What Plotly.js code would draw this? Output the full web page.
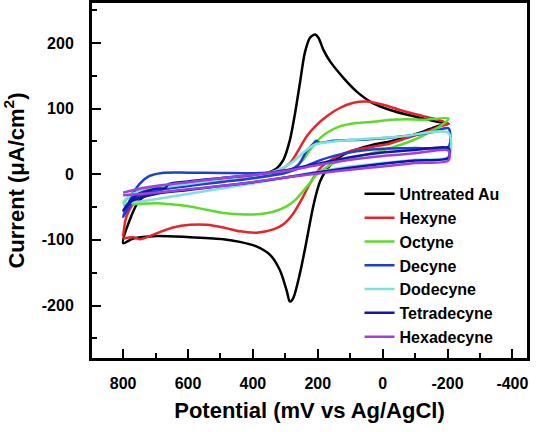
<!DOCTYPE html>
<html>
<head>
<meta charset="utf-8">
<script src="https://cdn.plot.ly/plotly-3.0.1.min.js"></script>
<style>html,body{margin:0;padding:0;background:#fff;}#chart{width:536px;height:432px;}</style>
</head>
<body>
<div id="chart"></div>
<script>
// Series names
const seriesNames = ["Untreated Au", "Hexyne", "Octyne", "Decyne", "Dodecyne", "Tetradecyne", "Hexadecyne"];

// Untreated Au (closed CV loop)
const untreatedX = [800,769,697,594,491,440,389,347,317,296,286,276,255,234,214,193,162,121,80,29,-23,-74,-125,-167,-203,
                    -167,-125,-74,-23,29,80,121,162,183,198,208,224,240,255,270,286,306,327,358,400,500,600,700,750,780,800];
const untreatedY = [-105,-98,-94,-96,-99,-103,-110,-123,-146,-177,-194,-189,-151,-100,-49,-11,14,30,38,45,50,57,65,73,77,
                    80,85,91,98,108,126,147,172,190,208,213,208,185,139,93,52,22,9,1.5,-2,-7,-14,-25,-40,-70,-105];

// Hexyne
const hexyneX = [800,769,749,697,646,594,543,491,440,389,337,306,276,245,224,193,152,101,29,-23,-74,-125,-177,-203,
                 -156,-105,-53,-2,49,90,132,173,204,234,265,286,317,358,400,500,600,700,760,790,800];
const hexyneY = [-98,-96,-99,-90,-81,-77,-77,-81,-87,-89,-84,-76,-60,-34,-14,9,24,35,42,47,55,63,73,77,
                 85,91,98,106,111,109,101,88,75,58,32,17,7,1.5,-3,-9,-17,-25,-40,-65,-95];

// Octyne
const octyneX = [800,749,697,646,594,543,491,440,389,337,296,265,234,204,162,111,49,-23,-74,-125,-177,-203,
                 -125,-74,-23,29,80,132,173,193,224,245,276,306,400,500,600,700,770,800];
const octyneY = [-47,-45,-44,-46,-49,-54,-59,-61,-61,-57,-49,-37,-19,-1,14,23,30,40,48,59,73,85,
                 83,84,83,80,78,73,63,55,37,22,9,4,-2,-6,-12,-20,-28,-45];

// Decyne
const decyneX = [800,780,750,720,680,600,500,400,330,290,260,235,215,205,195,150,50,-50,-150,-203,
                 -203,-100,0,80,150,200,250,300,400,500,600,700,760,800];
const decyneY = [-65,-40,-15,-3,2,2.5,2,1.5,3,6,14,35,46,51,48,51,53,57,64,70,
                 42,40,39,35,28,20,10,2,-6,-12,-18,-25,-35,-65];

// Dodecyne
const dodecyneX = [800,770,700,600,500,400,330,280,240,210,150,50,-50,-203,
                   -203,-100,0,100,200,300,400,500,600,700,800];
const dodecyneY = [-42,-30,-22,-15,-8,-2,5,18,35,45,50,54,57,63,
                   27,22,17,12,4,-5,-14,-22,-30,-38,-45];

// Tetradecyne
const tetradecyneX = [800,760,700,670,660,600,500,400,300,200,100,0,-100,-203,
                      -203,-100,0,100,200,300,400,500,600,700,770,800];
const tetradecyneY = [-55,-32,-22,-21,-15,-11,-6,-1,6,16,26,33,37,40,
                      25,21,16,10,3,-5,-12,-18,-24,-30,-40,-55];

// Hexadecyne
const hexadecyneX = [800,750,700,600,500,400,300,200,100,0,-100,-203,
                     -203,-100,0,100,200,300,400,500,600,700,800];
const hexadecyneY = [-28,-22,-18,-12,-6,-1,5,14,22,28,32,36,
                     21,17,12,7,1,-5,-12,-18,-23,-28,-32];

// Axis ticks
const xTickVals = [800, 600, 400, 200, 0, -200, -400];
const xTickText = ["800", "600", "400", "200", "0", "-200", "-400"];
const xMinorVals = [900, 700, 500, 300, 100, -100, -300];
const yTickVals = [200, 100, 0, -100, -200];
const yTickText = ["200", "100", "0", "-100", "-200"];
const yMinorVals = [250, 150, 50, -50, -150, -250];

const colors = ["#000000", "#e8242a", "#5ddb2a", "#1f3fd2", "#7de3da", "#1414aa", "#a03ee0"];
const xs = [untreatedX, hexyneX, octyneX, decyneX, dodecyneX, tetradecyneX, hexadecyneX];
const ys = [untreatedY, hexyneY, octyneY, decyneY, dodecyneY, tetradecyneY, hexadecyneY];

const traces = seriesNames.map((n, i) => ({
  x: xs[i], y: ys[i], name: n, type: 'scatter', mode: 'lines',
  line: {color: colors[i], width: 2.5, shape: 'spline', smoothing: 0.8}
}));
const fam = '"Liberation Sans", Arial, sans-serif';

const layout = {
  width: 536, height: 432,
  margin: {l: 92, r: 9, t: 3, b: 74},
  paper_bgcolor: '#fff', plot_bgcolor: '#fff',
  showlegend: true,
  legend: {x: 0.615, y: 0.51, xanchor: 'left', yanchor: 'top', bgcolor: 'rgba(0,0,0,0)',
           font: {family: fam, size: 16, color: '#000', weight: 'bold'}, tracegroupgap: 0},
  xaxis: {
    range: [896, -445], showgrid: false, zeroline: false,
    showline: true, linewidth: 3, linecolor: '#000', mirror: true,
    ticks: 'inside', ticklen: 9, tickwidth: 2, tickcolor: '#000',
    tickmode: 'array', tickvals: xTickVals, ticktext: xTickText,
    minor: {tickmode: 'array', tickvals: xMinorVals, ticks: 'inside', ticklen: 5, tickwidth: 2, tickcolor: '#000'},
    ticklabelstandoff: 9,
    tickfont: {family: fam, size: 16, color: '#000', weight: 'bold'},
    title: {text: 'Potential (mV vs Ag/AgCl)', standoff: 12,
            font: {family: fam, size: 22, color: '#000', weight: 'bold'}}
  },
  yaxis: {
    range: [-280, 261], showgrid: false, zeroline: false,
    showline: true, linewidth: 3, linecolor: '#000', mirror: true,
    ticks: 'inside', ticklen: 9, tickwidth: 2, tickcolor: '#000',
    tickmode: 'array', tickvals: yTickVals, ticktext: yTickText,
    minor: {tickmode: 'array', tickvals: yMinorVals, ticks: 'inside', ticklen: 5, tickwidth: 2, tickcolor: '#000'},
    ticklabelstandoff: 12,
    tickfont: {family: fam, size: 16, color: '#000', weight: 'bold'},
    title: {text: 'Current (\u03BCA/cm<sup>2</sup>)', standoff: 12,
            font: {family: fam, size: 22, color: '#000', weight: 'bold'}}
  }
};

Plotly.newPlot('chart', traces, layout, {staticPlot: true, displayModeBar: false});
</script>
</body>
</html>
